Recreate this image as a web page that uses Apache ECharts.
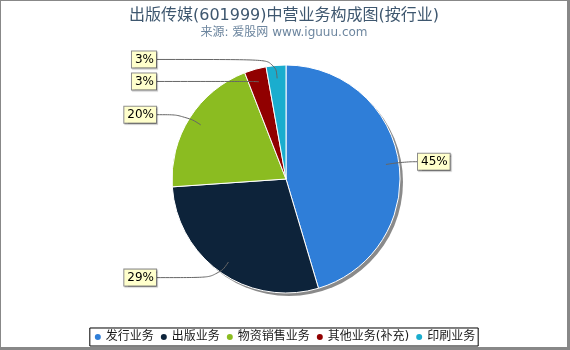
<!DOCTYPE html>
<html>
<head>
<meta charset="utf-8">
<script src="https://cdn.jsdelivr.net/npm/echarts@6/dist/echarts.min.js"></script>
<style>
    html, body { margin: 0; padding: 0; background: #fff; }
    #frame { position: relative; width: 570px; height: 350px; background: #888; }
    #IncomeChart { position: absolute; left: 1px; top: 1px; width: 566px; height: 346px; background: #fff; }
</style>
</head>
<body>
<div id="frame"><div id="IncomeChart"></div></div>
<script>
// 数据
const titleText = "出版传媒(601999)中营业务构成图(按行业)";
const subText = "来源: 爱股网 www.iguuu.com";
const categories = ["发行业务", "出版业务", "物资销售业务", "其他业务(补充)", "印刷业务"];
const shares = [45.4, 28.5, 20.2, 3.1, 2.8];
const colors = ["#2f7ed8", "#0d233a", "#8bbc21", "#910000", "#1aadce"];

const fontFamily = "DejaVu Sans, Noto Sans CJK SC, sans-serif";
const center = [285, 178];
const radius = 114;
const lineStart = 101;   // 标签线从扇区内部开始
const labelRadius = 120;
const labelColumn = 130; // 标签到圆心的水平距离

// 计算标签位置 (类似 highcharts 的布局)
let total = 0;
for (let i = 0; i < shares.length; i++) total += shares[i];
let labelPos = [];
let cum = 0;
for (let i = 0; i < shares.length; i++) {
    let angle = (cum + shares[i] / 2) / total * Math.PI * 2;
    cum += shares[i];
    let s = Math.sin(angle);
    let c = Math.cos(angle);
    labelPos.push({
        left: s < 0,
        sx: center[0] + lineStart * s,
        sy: center[1] - lineStart * c,
        mx: center[0] + (radius - 10) * s * 1.15,
        y: center[1] - labelRadius * c
    });
}
// 避免重叠
[true, false].forEach(function (side) {
    let list = labelPos.filter(function (p) { return p.left === side; });
    list.sort(function (a, b) { return a.y - b.y; });
    for (let i = 1; i < list.length; i++) {
        if (list[i].y - list[i - 1].y < 22) list[i].y = list[i - 1].y + 22;
    }
});

let pieData = [];
for (let i = 0; i < categories.length; i++) {
    pieData.push({ name: categories[i], value: shares[i] });
}

const chart = echarts.init(document.getElementById("IncomeChart"));
chart.setOption({
    animation: false,
    color: colors,
    title: {
        text: titleText,
        subtext: subText,
        left: "center",
        top: 2,
        itemGap: 3,
        textStyle: { fontFamily: fontFamily, fontSize: 16, fontWeight: "normal", color: "#3e576f" },
        subtextStyle: { fontFamily: fontFamily, fontSize: 12, color: "#6d869f" }
    },
    legend: {
        data: categories,
        bottom: 1,
        left: "center",
        icon: "circle",
        itemWidth: 8,
        itemHeight: 8,
        itemGap: 5,
        padding: [3, 3],
        borderColor: "#000",
        borderWidth: 1,
        textStyle: { fontFamily: fontFamily, fontSize: 12, color: "#1a1a1a", padding: [0, 0, 0, -1] }
    },
    series: [
        {
            // 阴影
            type: "pie",
            silent: true,
            center: [center[0] + 3, center[1] + 3],
            radius: radius,
            z: 1,
            label: { show: false },
            labelLine: { show: false },
            itemStyle: { color: "#8a8a8a", borderWidth: 0 },
            emphasis: { disabled: true },
            data: [{ value: 1, name: "" }],
            legendHoverLink: false
        },
        {
            type: "pie",
            name: "业务构成",
            center: center,
            radius: radius,
            z: 2,
            label: { show: false },
            labelLine: { show: false },
            itemStyle: { borderColor: "#fff", borderWidth: 1 },
            emphasis: { disabled: true },
            data: pieData
        },
        {
            // 标签
            type: "pie",
            silent: true,
            center: center,
            radius: lineStart,
            z: 3,
            percentPrecision: 0,
            itemStyle: { color: "rgba(0,0,0,0)", borderWidth: 0 },
            emphasis: { disabled: true },
            label: {
                show: true,
                position: "outside",
                formatter: "{d}%",
                fontFamily: fontFamily,
                fontSize: 12,
                lineHeight: 13,
                color: "#000",
                backgroundColor: "#ffffcc",
                borderColor: "#8c8c8c",
                borderWidth: 1,
                padding: [2, 2, 1, 3],
                shadowColor: "rgba(0,0,0,0.25)",
                shadowOffsetX: 1,
                shadowOffsetY: 1,
                shadowBlur: 1
            },
            labelLine: {
                show: true,
                length: 12,
                length2: 20,
                smooth: 0.5,
                lineStyle: { color: "#666", width: 1 }
            },
            labelLayout: function (params) {
                let p = labelPos[params.dataIndex];
                let x = p.left ? center[0] - labelColumn : center[0] + labelColumn + 2;
                return {
                    x: x,
                    y: p.y,
                    align: p.left ? "right" : "left",
                    verticalAlign: "middle",
                    labelLinePoints: [[p.sx, p.sy], [p.mx, p.y], [x, p.y]]
                };
            },
            data: pieData
        }
    ]
});
</script>
</body>
</html>
